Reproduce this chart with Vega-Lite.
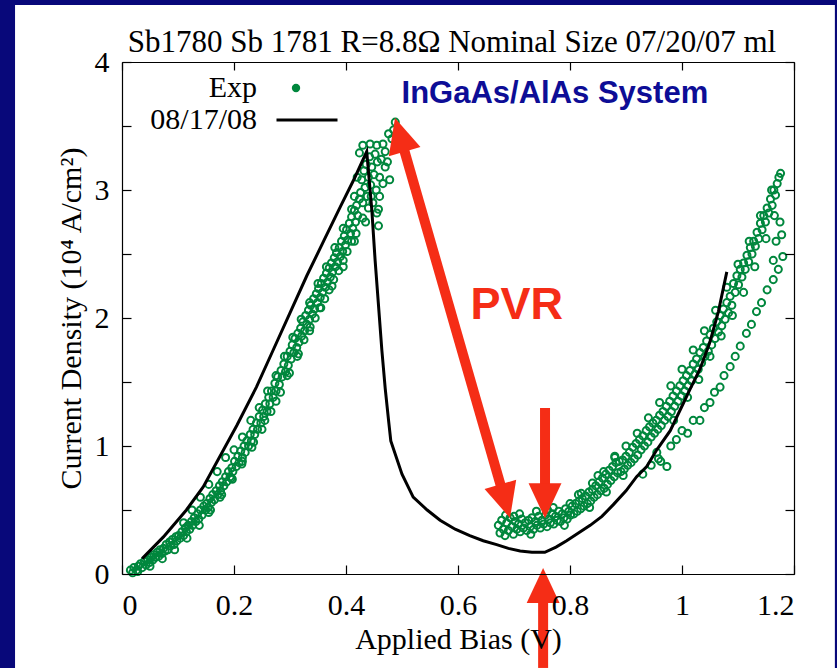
{
  "$schema": "https://vega.github.io/schema/vega-lite/v6.json",
  "width": 672,
  "height": 512,
  "autosize": "none",
  "padding": {"left": 122, "top": 62, "right": 43, "bottom": 94},
  "background": "#08087a",
  "title": {"text": "Sb1780 Sb 1781 R=8.8Ω Nominal Size 07/20/07 ml", "font": "Liberation Serif", "fontSize": 31, "fontWeight": "normal", "color": "black", "anchor": "middle", "offset": -54, "dx": -6},
  "config": {
    "view": {"stroke": null},
    "axis": {"labelFont": "Liberation Serif", "labelFontSize": 30, "labelColor": "black", "titleFont": "Liberation Serif", "titleFontSize": 30, "titleFontWeight": "normal", "titleColor": "black", "domainColor": "black", "tickColor": "black", "grid": false, "domainWidth": 1.2, "tickWidth": 1.2}
  },
  "datasets": {
    "exp": [
      {"series":"Exp","bias":0.015,"density":0.03},{"series":"Exp","bias":0.019,"density":0.01},{"series":"Exp","bias":0.021,"density":0.05},{"series":"Exp","bias":0.026,"density":0.03},{"series":"Exp","bias":0.029,"density":0.06},{"series":"Exp","bias":0.033,"density":0.08},{"series":"Exp","bias":0.036,"density":0.05},{"series":"Exp","bias":0.04,"density":0.1},{"series":"Exp","bias":0.043,"density":0.07},{"series":"Exp","bias":0.046,"density":0.11},{"series":"Exp","bias":0.049,"density":0.09},{"series":"Exp","bias":0.052,"density":0.13},{"series":"Exp","bias":0.055,"density":0.11},{"series":"Exp","bias":0.057,"density":0.15},{"series":"Exp","bias":0.06,"density":0.13},{"series":"Exp","bias":0.063,"density":0.17},{"series":"Exp","bias":0.066,"density":0.14},{"series":"Exp","bias":0.068,"density":0.19},{"series":"Exp","bias":0.071,"density":0.16},{"series":"Exp","bias":0.074,"density":0.2},{"series":"Exp","bias":0.077,"density":0.18},{"series":"Exp","bias":0.079,"density":0.23},{"series":"Exp","bias":0.082,"density":0.19},{"series":"Exp","bias":0.085,"density":0.25},{"series":"Exp","bias":0.087,"density":0.22},{"series":"Exp","bias":0.09,"density":0.27},{"series":"Exp","bias":0.093,"density":0.23},{"series":"Exp","bias":0.096,"density":0.29},{"series":"Exp","bias":0.098,"density":0.26},{"series":"Exp","bias":0.101,"density":0.3},{"series":"Exp","bias":0.104,"density":0.28},{"series":"Exp","bias":0.107,"density":0.33},{"series":"Exp","bias":0.11,"density":0.3},{"series":"Exp","bias":0.113,"density":0.36},{"series":"Exp","bias":0.115,"density":0.33},{"series":"Exp","bias":0.118,"density":0.38},{"series":"Exp","bias":0.121,"density":0.35},{"series":"Exp","bias":0.124,"density":0.41},{"series":"Exp","bias":0.126,"density":0.38},{"series":"Exp","bias":0.129,"density":0.44},{"series":"Exp","bias":0.132,"density":0.41},{"series":"Exp","bias":0.135,"density":0.47},{"series":"Exp","bias":0.137,"density":0.43},{"series":"Exp","bias":0.14,"density":0.5},{"series":"Exp","bias":0.143,"density":0.46},{"series":"Exp","bias":0.146,"density":0.53},{"series":"Exp","bias":0.149,"density":0.5},{"series":"Exp","bias":0.151,"density":0.55},{"series":"Exp","bias":0.154,"density":0.52},{"series":"Exp","bias":0.157,"density":0.59},{"series":"Exp","bias":0.16,"density":0.56},{"series":"Exp","bias":0.162,"density":0.62},{"series":"Exp","bias":0.165,"density":0.58},{"series":"Exp","bias":0.168,"density":0.65},{"series":"Exp","bias":0.171,"density":0.62},{"series":"Exp","bias":0.174,"density":0.69},{"series":"Exp","bias":0.176,"density":0.65},{"series":"Exp","bias":0.179,"density":0.72},{"series":"Exp","bias":0.182,"density":0.69},{"series":"Exp","bias":0.185,"density":0.76},{"series":"Exp","bias":0.187,"density":0.72},{"series":"Exp","bias":0.19,"density":0.8},{"series":"Exp","bias":0.193,"density":0.76},{"series":"Exp","bias":0.196,"density":0.83},{"series":"Exp","bias":0.198,"density":0.8},{"series":"Exp","bias":0.201,"density":0.88},{"series":"Exp","bias":0.204,"density":0.84},{"series":"Exp","bias":0.207,"density":0.92},{"series":"Exp","bias":0.209,"density":0.87},{"series":"Exp","bias":0.212,"density":0.96},{"series":"Exp","bias":0.215,"density":0.91},{"series":"Exp","bias":0.218,"density":1.0},{"series":"Exp","bias":0.22,"density":0.95},{"series":"Exp","bias":0.223,"density":1.04},{"series":"Exp","bias":0.226,"density":1.0},{"series":"Exp","bias":0.229,"density":1.09},{"series":"Exp","bias":0.231,"density":1.04},{"series":"Exp","bias":0.234,"density":1.13},{"series":"Exp","bias":0.237,"density":1.09},{"series":"Exp","bias":0.24,"density":1.18},{"series":"Exp","bias":0.242,"density":1.13},{"series":"Exp","bias":0.245,"density":1.23},{"series":"Exp","bias":0.248,"density":1.18},{"series":"Exp","bias":0.251,"density":1.28},{"series":"Exp","bias":0.253,"density":1.23},{"series":"Exp","bias":0.256,"density":1.33},{"series":"Exp","bias":0.259,"density":1.27},{"series":"Exp","bias":0.262,"density":1.38},{"series":"Exp","bias":0.264,"density":1.33},{"series":"Exp","bias":0.267,"density":1.43},{"series":"Exp","bias":0.27,"density":1.38},{"series":"Exp","bias":0.273,"density":1.49},{"series":"Exp","bias":0.275,"density":1.43},{"series":"Exp","bias":0.278,"density":1.54},{"series":"Exp","bias":0.281,"density":1.48},{"series":"Exp","bias":0.284,"density":1.59},{"series":"Exp","bias":0.286,"density":1.54},{"series":"Exp","bias":0.289,"density":1.64},{"series":"Exp","bias":0.292,"density":1.58},{"series":"Exp","bias":0.295,"density":1.7},{"series":"Exp","bias":0.297,"density":1.63},{"series":"Exp","bias":0.3,"density":1.74},
      {"series":"Exp","bias":0.028,"density":0.02},{"series":"Exp","bias":0.05,"density":0.06},{"series":"Exp","bias":0.072,"density":0.12},{"series":"Exp","bias":0.094,"density":0.19},{"series":"Exp","bias":0.116,"density":0.28},{"series":"Exp","bias":0.138,"density":0.38},{"series":"Exp","bias":0.158,"density":0.5},{"series":"Exp","bias":0.178,"density":0.62},{"series":"Exp","bias":0.197,"density":0.74},{"series":"Exp","bias":0.214,"density":0.86},{"series":"Exp","bias":0.232,"density":0.99},{"series":"Exp","bias":0.25,"density":1.13},{"series":"Exp","bias":0.266,"density":1.27},{"series":"Exp","bias":0.283,"density":1.42},{"series":"Exp","bias":0.299,"density":1.57},
      {"series":"Exp","bias":0.11,"density":0.4},{"series":"Exp","bias":0.125,"density":0.5},{"series":"Exp","bias":0.14,"density":0.6},{"series":"Exp","bias":0.155,"density":0.7},{"series":"Exp","bias":0.17,"density":0.8},{"series":"Exp","bias":0.185,"density":0.91},{"series":"Exp","bias":0.2,"density":0.97},{"series":"Exp","bias":0.215,"density":1.07},{"series":"Exp","bias":0.23,"density":1.2},{"series":"Exp","bias":0.245,"density":1.3},{"series":"Exp","bias":0.26,"density":1.43},{"series":"Exp","bias":0.275,"density":1.55},{"series":"Exp","bias":0.29,"density":1.7},{"series":"Exp","bias":0.305,"density":1.85},{"series":"Exp","bias":0.32,"density":1.99},{"series":"Exp","bias":0.335,"density":2.12},{"series":"Exp","bias":0.35,"density":2.27},{"series":"Exp","bias":0.365,"density":2.4},{"series":"Exp","bias":0.38,"density":2.55},{"series":"Exp","bias":0.395,"density":2.7},{"series":"Exp","bias":0.41,"density":2.85},
      {"series":"Exp","bias":0.155,"density":0.48},{"series":"Exp","bias":0.175,"density":0.6},{"series":"Exp","bias":0.195,"density":0.75},{"series":"Exp","bias":0.215,"density":0.88},{"series":"Exp","bias":0.235,"density":1.03},{"series":"Exp","bias":0.255,"density":1.2},{"series":"Exp","bias":0.275,"density":1.35},{"series":"Exp","bias":0.295,"density":1.55},{"series":"Exp","bias":0.315,"density":1.72},{"series":"Exp","bias":0.335,"density":1.9},{"series":"Exp","bias":0.355,"density":2.08},{"series":"Exp","bias":0.375,"density":2.25},{"series":"Exp","bias":0.395,"density":2.4},{"series":"Exp","bias":0.415,"density":2.6},{"series":"Exp","bias":0.435,"density":2.75},{"series":"Exp","bias":0.445,"density":2.95},
      {"series":"Exp","bias":0.302,"density":1.68},{"series":"Exp","bias":0.304,"density":1.79},{"series":"Exp","bias":0.307,"density":1.73},{"series":"Exp","bias":0.309,"density":1.84},{"series":"Exp","bias":0.312,"density":1.77},{"series":"Exp","bias":0.314,"density":1.88},{"series":"Exp","bias":0.316,"density":1.81},{"series":"Exp","bias":0.319,"density":1.92},{"series":"Exp","bias":0.321,"density":1.86},{"series":"Exp","bias":0.323,"density":1.97},{"series":"Exp","bias":0.326,"density":1.9},{"series":"Exp","bias":0.328,"density":2.02},{"series":"Exp","bias":0.33,"density":1.95},{"series":"Exp","bias":0.333,"density":2.06},{"series":"Exp","bias":0.335,"density":1.99},{"series":"Exp","bias":0.337,"density":2.1},{"series":"Exp","bias":0.34,"density":2.03},{"series":"Exp","bias":0.342,"density":2.15},{"series":"Exp","bias":0.344,"density":2.07},{"series":"Exp","bias":0.347,"density":2.19},{"series":"Exp","bias":0.349,"density":2.12},{"series":"Exp","bias":0.351,"density":2.23},{"series":"Exp","bias":0.354,"density":2.16},{"series":"Exp","bias":0.356,"density":2.27},{"series":"Exp","bias":0.358,"density":2.2},{"series":"Exp","bias":0.36,"density":2.31},{"series":"Exp","bias":0.363,"density":2.24},{"series":"Exp","bias":0.365,"density":2.35},{"series":"Exp","bias":0.367,"density":2.28},{"series":"Exp","bias":0.37,"density":2.39},{"series":"Exp","bias":0.372,"density":2.32},{"series":"Exp","bias":0.374,"density":2.43},{"series":"Exp","bias":0.376,"density":2.36},{"series":"Exp","bias":0.379,"density":2.47},{"series":"Exp","bias":0.381,"density":2.4},{"series":"Exp","bias":0.383,"density":2.51},{"series":"Exp","bias":0.385,"density":2.44},{"series":"Exp","bias":0.388,"density":2.55},{"series":"Exp","bias":0.39,"density":2.48},{"series":"Exp","bias":0.392,"density":2.6},{"series":"Exp","bias":0.394,"density":2.52},{"series":"Exp","bias":0.397,"density":2.64},{"series":"Exp","bias":0.399,"density":2.57},{"series":"Exp","bias":0.401,"density":2.69},{"series":"Exp","bias":0.403,"density":2.61},{"series":"Exp","bias":0.406,"density":2.74},{"series":"Exp","bias":0.408,"density":2.66},{"series":"Exp","bias":0.41,"density":2.79},{"series":"Exp","bias":0.412,"density":2.7},{"series":"Exp","bias":0.415,"density":2.84},{"series":"Exp","bias":0.417,"density":2.75},{"series":"Exp","bias":0.419,"density":2.88},{"series":"Exp","bias":0.421,"density":2.8},{"series":"Exp","bias":0.424,"density":2.93},
      {"series":"Exp","bias":0.313,"density":1.7},{"series":"Exp","bias":0.325,"density":1.83},{"series":"Exp","bias":0.336,"density":1.93},{"series":"Exp","bias":0.345,"density":2.0},{"series":"Exp","bias":0.353,"density":2.08},{"series":"Exp","bias":0.362,"density":2.15},{"series":"Exp","bias":0.37,"density":2.22},{"series":"Exp","bias":0.378,"density":2.3},{"series":"Exp","bias":0.387,"density":2.37},{"series":"Exp","bias":0.395,"density":2.45},{"series":"Exp","bias":0.402,"density":2.52},{"series":"Exp","bias":0.41,"density":2.6},{"series":"Exp","bias":0.418,"density":2.66},{"series":"Exp","bias":0.43,"density":2.78},{"series":"Exp","bias":0.44,"density":2.86},{"series":"Exp","bias":0.455,"density":2.82},{"series":"Exp","bias":0.46,"density":2.95},
      {"series":"Exp","bias":0.426,"density":2.98},{"series":"Exp","bias":0.428,"density":3.08},{"series":"Exp","bias":0.43,"density":2.9},{"series":"Exp","bias":0.432,"density":3.15},{"series":"Exp","bias":0.434,"density":3.02},{"series":"Exp","bias":0.436,"density":3.2},{"series":"Exp","bias":0.438,"density":2.95},{"series":"Exp","bias":0.44,"density":3.1},{"series":"Exp","bias":0.442,"density":3.26},{"series":"Exp","bias":0.444,"density":3.04},{"series":"Exp","bias":0.446,"density":3.18},{"series":"Exp","bias":0.448,"density":2.9},{"series":"Exp","bias":0.45,"density":3.12},{"series":"Exp","bias":0.452,"density":3.28},{"series":"Exp","bias":0.454,"density":3.0},{"series":"Exp","bias":0.456,"density":3.22},{"series":"Exp","bias":0.458,"density":2.85},{"series":"Exp","bias":0.46,"density":3.1},{"series":"Exp","bias":0.463,"density":3.24},{"series":"Exp","bias":0.466,"density":3.05},{"series":"Exp","bias":0.47,"density":3.18},{"series":"Exp","bias":0.474,"density":3.22},{"series":"Exp","bias":0.478,"density":3.08},{"series":"Exp","bias":0.43,"density":3.35},{"series":"Exp","bias":0.443,"density":3.36},{"series":"Exp","bias":0.455,"density":3.35},{"series":"Exp","bias":0.466,"density":3.36},{"series":"Exp","bias":0.47,"density":3.3},{"series":"Exp","bias":0.476,"density":3.44},{"series":"Exp","bias":0.482,"density":3.4},{"series":"Exp","bias":0.488,"density":3.53},{"series":"Exp","bias":0.485,"density":3.47},{"series":"Exp","bias":0.424,"density":3.29},{"series":"Exp","bias":0.42,"density":3.1},{"series":"Exp","bias":0.415,"density":2.95},{"series":"Exp","bias":0.458,"density":2.72},
      {"series":"Exp","bias":0.672,"density":0.38},{"series":"Exp","bias":0.675,"density":0.32},{"series":"Exp","bias":0.678,"density":0.42},{"series":"Exp","bias":0.681,"density":0.35},{"series":"Exp","bias":0.684,"density":0.3},{"series":"Exp","bias":0.687,"density":0.4},{"series":"Exp","bias":0.69,"density":0.34},{"series":"Exp","bias":0.693,"density":0.44},{"series":"Exp","bias":0.696,"density":0.37},{"series":"Exp","bias":0.699,"density":0.31},{"series":"Exp","bias":0.702,"density":0.41},{"series":"Exp","bias":0.705,"density":0.35},{"series":"Exp","bias":0.708,"density":0.39},{"series":"Exp","bias":0.711,"density":0.33},{"series":"Exp","bias":0.714,"density":0.43},{"series":"Exp","bias":0.717,"density":0.36},{"series":"Exp","bias":0.72,"density":0.4},{"series":"Exp","bias":0.723,"density":0.34},{"series":"Exp","bias":0.726,"density":0.42},{"series":"Exp","bias":0.729,"density":0.37},{"series":"Exp","bias":0.732,"density":0.44},{"series":"Exp","bias":0.735,"density":0.35},{"series":"Exp","bias":0.738,"density":0.41},{"series":"Exp","bias":0.741,"density":0.38},{"series":"Exp","bias":0.744,"density":0.45},{"series":"Exp","bias":0.747,"density":0.36},{"series":"Exp","bias":0.75,"density":0.42},{"series":"Exp","bias":0.753,"density":0.39},{"series":"Exp","bias":0.756,"density":0.46},{"series":"Exp","bias":0.759,"density":0.37},{"series":"Exp","bias":0.762,"density":0.43},{"series":"Exp","bias":0.765,"density":0.4},{"series":"Exp","bias":0.768,"density":0.47},{"series":"Exp","bias":0.771,"density":0.39},{"series":"Exp","bias":0.774,"density":0.45},{"series":"Exp","bias":0.777,"density":0.42},{"series":"Exp","bias":0.78,"density":0.49},{"series":"Exp","bias":0.783,"density":0.41},{"series":"Exp","bias":0.786,"density":0.47},{"series":"Exp","bias":0.789,"density":0.44},{"series":"Exp","bias":0.792,"density":0.51},{"series":"Exp","bias":0.795,"density":0.43},{"series":"Exp","bias":0.798,"density":0.49},
      {"series":"Exp","bias":0.685,"density":0.46},{"series":"Exp","bias":0.71,"density":0.47},{"series":"Exp","bias":0.74,"density":0.49},{"series":"Exp","bias":0.77,"density":0.52},{"series":"Exp","bias":0.7,"density":0.45},{"series":"Exp","bias":0.73,"density":0.31},{"series":"Exp","bias":0.76,"density":0.5},{"series":"Exp","bias":0.79,"density":0.38},{"series":"Exp","bias":0.815,"density":0.62},{"series":"Exp","bias":0.835,"density":0.52},{"series":"Exp","bias":0.85,"density":0.77},{"series":"Exp","bias":0.865,"density":0.64},{"series":"Exp","bias":0.88,"density":0.92},{"series":"Exp","bias":0.895,"density":0.77},
      {"series":"Exp","bias":0.801,"density":0.46},{"series":"Exp","bias":0.804,"density":0.53},{"series":"Exp","bias":0.807,"density":0.47},{"series":"Exp","bias":0.81,"density":0.55},{"series":"Exp","bias":0.813,"density":0.49},{"series":"Exp","bias":0.816,"density":0.57},{"series":"Exp","bias":0.819,"density":0.51},{"series":"Exp","bias":0.822,"density":0.59},{"series":"Exp","bias":0.825,"density":0.53},{"series":"Exp","bias":0.828,"density":0.61},{"series":"Exp","bias":0.831,"density":0.55},{"series":"Exp","bias":0.834,"density":0.64},{"series":"Exp","bias":0.837,"density":0.57},{"series":"Exp","bias":0.84,"density":0.66},{"series":"Exp","bias":0.843,"density":0.6},{"series":"Exp","bias":0.846,"density":0.69},{"series":"Exp","bias":0.849,"density":0.62},{"series":"Exp","bias":0.852,"density":0.72},{"series":"Exp","bias":0.855,"density":0.65},{"series":"Exp","bias":0.858,"density":0.75},{"series":"Exp","bias":0.861,"density":0.67},{"series":"Exp","bias":0.864,"density":0.78},{"series":"Exp","bias":0.867,"density":0.7},{"series":"Exp","bias":0.87,"density":0.81},{"series":"Exp","bias":0.873,"density":0.73},{"series":"Exp","bias":0.876,"density":0.84},{"series":"Exp","bias":0.879,"density":0.76},{"series":"Exp","bias":0.882,"density":0.87},{"series":"Exp","bias":0.885,"density":0.79},{"series":"Exp","bias":0.888,"density":0.88},{"series":"Exp","bias":0.891,"density":0.8},
      {"series":"Exp","bias":0.8,"density":0.55},{"series":"Exp","bias":0.82,"density":0.63},{"series":"Exp","bias":0.84,"density":0.71},{"series":"Exp","bias":0.86,"density":0.8},{"series":"Exp","bias":0.88,"density":0.91},{"series":"Exp","bias":0.9,"density":1.0},{"series":"Exp","bias":0.92,"density":1.1},{"series":"Exp","bias":0.94,"density":1.22},{"series":"Exp","bias":0.96,"density":1.34},{"series":"Exp","bias":0.98,"density":1.47},{"series":"Exp","bias":1.0,"density":1.6},{"series":"Exp","bias":1.02,"density":1.75},{"series":"Exp","bias":1.04,"density":1.9},{"series":"Exp","bias":1.06,"density":2.06},{"series":"Exp","bias":1.08,"density":2.24},{"series":"Exp","bias":1.1,"density":2.42},{"series":"Exp","bias":1.12,"density":2.6},{"series":"Exp","bias":1.14,"density":2.8},{"series":"Exp","bias":1.16,"density":3.0},
      {"series":"Exp","bias":0.894,"density":0.89},{"series":"Exp","bias":0.897,"density":0.82},{"series":"Exp","bias":0.9,"density":0.92},{"series":"Exp","bias":0.903,"density":0.85},{"series":"Exp","bias":0.906,"density":0.95},{"series":"Exp","bias":0.909,"density":0.87},{"series":"Exp","bias":0.912,"density":0.99},{"series":"Exp","bias":0.915,"density":0.9},{"series":"Exp","bias":0.918,"density":1.02},{"series":"Exp","bias":0.921,"density":0.93},{"series":"Exp","bias":0.924,"density":1.05},{"series":"Exp","bias":0.927,"density":0.97},{"series":"Exp","bias":0.93,"density":1.08},{"series":"Exp","bias":0.933,"density":1.0},{"series":"Exp","bias":0.936,"density":1.12},{"series":"Exp","bias":0.939,"density":1.03},{"series":"Exp","bias":0.942,"density":1.15},{"series":"Exp","bias":0.945,"density":1.07},{"series":"Exp","bias":0.948,"density":1.18},{"series":"Exp","bias":0.951,"density":1.1},
      {"series":"Exp","bias":0.954,"density":1.2},{"series":"Exp","bias":0.957,"density":1.13},{"series":"Exp","bias":0.96,"density":1.24},{"series":"Exp","bias":0.963,"density":1.16},{"series":"Exp","bias":0.966,"density":1.27},{"series":"Exp","bias":0.969,"density":1.2},{"series":"Exp","bias":0.972,"density":1.31},{"series":"Exp","bias":0.975,"density":1.23},{"series":"Exp","bias":0.978,"density":1.35},{"series":"Exp","bias":0.981,"density":1.27},{"series":"Exp","bias":0.984,"density":1.39},{"series":"Exp","bias":0.987,"density":1.31},{"series":"Exp","bias":0.99,"density":1.43},{"series":"Exp","bias":0.993,"density":1.35},{"series":"Exp","bias":0.996,"density":1.47},{"series":"Exp","bias":0.999,"density":1.39},{"series":"Exp","bias":1.002,"density":1.51},{"series":"Exp","bias":1.005,"density":1.43},{"series":"Exp","bias":1.008,"density":1.55},{"series":"Exp","bias":1.011,"density":1.47},{"series":"Exp","bias":1.014,"density":1.59},{"series":"Exp","bias":1.017,"density":1.51},{"series":"Exp","bias":1.02,"density":1.64},{"series":"Exp","bias":1.023,"density":1.56},{"series":"Exp","bias":1.026,"density":1.68},{"series":"Exp","bias":1.029,"density":1.6},{"series":"Exp","bias":1.032,"density":1.73},{"series":"Exp","bias":1.035,"density":1.65},{"series":"Exp","bias":1.038,"density":1.77},{"series":"Exp","bias":1.041,"density":1.7},{"series":"Exp","bias":1.044,"density":1.82},{"series":"Exp","bias":1.047,"density":1.74},{"series":"Exp","bias":1.05,"density":1.87},{"series":"Exp","bias":1.053,"density":1.79},{"series":"Exp","bias":1.056,"density":1.92},{"series":"Exp","bias":1.059,"density":1.84},{"series":"Exp","bias":1.062,"density":1.97},{"series":"Exp","bias":1.065,"density":1.89},{"series":"Exp","bias":1.068,"density":2.02},{"series":"Exp","bias":1.071,"density":1.94},{"series":"Exp","bias":1.074,"density":2.07},{"series":"Exp","bias":1.077,"density":1.99},{"series":"Exp","bias":1.08,"density":2.12},{"series":"Exp","bias":1.083,"density":2.04},{"series":"Exp","bias":1.086,"density":2.17},{"series":"Exp","bias":1.089,"density":2.1},{"series":"Exp","bias":1.092,"density":2.27},{"series":"Exp","bias":1.095,"density":2.2},{"series":"Exp","bias":1.098,"density":2.33},{"series":"Exp","bias":1.101,"density":2.26},{"series":"Exp","bias":1.104,"density":2.38},{"series":"Exp","bias":1.107,"density":2.32},{"series":"Exp","bias":1.11,"density":2.43},{"series":"Exp","bias":1.113,"density":2.38},{"series":"Exp","bias":1.116,"density":2.49},{"series":"Exp","bias":1.119,"density":2.44},{"series":"Exp","bias":1.122,"density":2.55},{"series":"Exp","bias":1.125,"density":2.5},{"series":"Exp","bias":1.128,"density":2.6},{"series":"Exp","bias":1.131,"density":2.56},{"series":"Exp","bias":1.134,"density":2.67},{"series":"Exp","bias":1.137,"density":2.62},{"series":"Exp","bias":1.14,"density":2.74},{"series":"Exp","bias":1.143,"density":2.69},{"series":"Exp","bias":1.146,"density":2.8},{"series":"Exp","bias":1.149,"density":2.75},{"series":"Exp","bias":1.152,"density":2.86},{"series":"Exp","bias":1.155,"density":2.82},{"series":"Exp","bias":1.158,"density":2.93},{"series":"Exp","bias":1.161,"density":2.88},{"series":"Exp","bias":1.164,"density":3.0},{"series":"Exp","bias":1.167,"density":2.96},{"series":"Exp","bias":1.17,"density":3.05},{"series":"Exp","bias":1.173,"density":3.1},{"series":"Exp","bias":1.176,"density":3.13},
      {"series":"Exp","bias":0.985,"density":1.2},{"series":"Exp","bias":1.01,"density":1.38},{"series":"Exp","bias":1.03,"density":1.52},{"series":"Exp","bias":1.05,"density":1.7},{"series":"Exp","bias":1.07,"density":1.86},{"series":"Exp","bias":1.09,"density":2.02},{"series":"Exp","bias":1.11,"density":2.2},{"series":"Exp","bias":1.13,"density":2.4},{"series":"Exp","bias":1.15,"density":2.62},{"series":"Exp","bias":1.165,"density":2.8},
      {"series":"Exp","bias":0.955,"density":0.95},{"series":"Exp","bias":0.962,"density":0.88},{"series":"Exp","bias":0.973,"density":0.84},{"series":"Exp","bias":0.98,"density":1.0},{"series":"Exp","bias":0.99,"density":1.05},{"series":"Exp","bias":1.0,"density":1.12},{"series":"Exp","bias":1.01,"density":1.1},{"series":"Exp","bias":1.02,"density":1.2},{"series":"Exp","bias":1.032,"density":1.2},{"series":"Exp","bias":1.04,"density":1.3},{"series":"Exp","bias":1.05,"density":1.34},{"series":"Exp","bias":1.058,"density":1.42},{"series":"Exp","bias":1.068,"density":1.46},{"series":"Exp","bias":1.075,"density":1.55},{"series":"Exp","bias":1.086,"density":1.62},{"series":"Exp","bias":1.095,"density":1.7},{"series":"Exp","bias":1.104,"density":1.78},{"series":"Exp","bias":1.115,"density":1.88},{"series":"Exp","bias":1.124,"density":1.95},{"series":"Exp","bias":1.133,"density":2.05},{"series":"Exp","bias":1.142,"density":2.12},{"series":"Exp","bias":1.152,"density":2.22},{"series":"Exp","bias":1.163,"density":2.3},{"series":"Exp","bias":1.163,"density":2.45},{"series":"Exp","bias":1.172,"density":2.38},{"series":"Exp","bias":1.18,"density":2.48},{"series":"Exp","bias":1.178,"density":2.65},{"series":"Exp","bias":1.175,"density":2.75},{"series":"Exp","bias":1.168,"density":2.6},{"series":"Exp","bias":0.93,"density":0.78},{"series":"Exp","bias":0.945,"density":0.85},{"series":"Exp","bias":0.958,"density":0.9}
    ],
    "model": [
      {"series":"08/17/08","bias":0.036,"density":0.12},{"series":"08/17/08","bias":0.074,"density":0.29},{"series":"08/17/08","bias":0.115,"density":0.5},{"series":"08/17/08","bias":0.145,"density":0.68},{"series":"08/17/08","bias":0.175,"density":0.92},{"series":"08/17/08","bias":0.205,"density":1.16},{"series":"08/17/08","bias":0.24,"density":1.46},{"series":"08/17/08","bias":0.27,"density":1.75},{"series":"08/17/08","bias":0.3,"density":2.04},{"series":"08/17/08","bias":0.33,"density":2.33},{"series":"08/17/08","bias":0.36,"density":2.6},{"series":"08/17/08","bias":0.39,"density":2.87},{"series":"08/17/08","bias":0.415,"density":3.09},{"series":"08/17/08","bias":0.437,"density":3.3},{"series":"08/17/08","bias":0.446,"density":2.85},{"series":"08/17/08","bias":0.452,"density":2.45},{"series":"08/17/08","bias":0.458,"density":2.1},{"series":"08/17/08","bias":0.464,"density":1.75},{"series":"08/17/08","bias":0.47,"density":1.45},{"series":"08/17/08","bias":0.476,"density":1.2},{"series":"08/17/08","bias":0.48,"density":1.04},{"series":"08/17/08","bias":0.5,"density":0.78},{"series":"08/17/08","bias":0.52,"density":0.6},{"series":"08/17/08","bias":0.545,"density":0.5},{"series":"08/17/08","bias":0.568,"density":0.42},{"series":"08/17/08","bias":0.595,"density":0.35},{"series":"08/17/08","bias":0.621,"density":0.3},{"series":"08/17/08","bias":0.645,"density":0.26},{"series":"08/17/08","bias":0.669,"density":0.23},{"series":"08/17/08","bias":0.69,"density":0.2},{"series":"08/17/08","bias":0.711,"density":0.18},{"series":"08/17/08","bias":0.732,"density":0.17},{"series":"08/17/08","bias":0.755,"density":0.17},{"series":"08/17/08","bias":0.775,"density":0.21},{"series":"08/17/08","bias":0.794,"density":0.26},{"series":"08/17/08","bias":0.815,"density":0.32},{"series":"08/17/08","bias":0.836,"density":0.38},{"series":"08/17/08","bias":0.857,"density":0.45},{"series":"08/17/08","bias":0.877,"density":0.54},{"series":"08/17/08","bias":0.9,"density":0.65},{"series":"08/17/08","bias":0.919,"density":0.76},{"series":"08/17/08","bias":0.937,"density":0.84},{"series":"08/17/08","bias":0.955,"density":0.97},{"series":"08/17/08","bias":0.979,"density":1.12},{"series":"08/17/08","bias":1.002,"density":1.33},{"series":"08/17/08","bias":1.014,"density":1.44},{"series":"08/17/08","bias":1.032,"density":1.6},{"series":"08/17/08","bias":1.049,"density":1.8},{"series":"08/17/08","bias":1.065,"density":2.05},{"series":"08/17/08","bias":1.08,"density":2.36}
    ]
  },
  "layer": [
    {
      "data": {"values": [{"panel": "slide"}]},
      "mark": {"type": "rect", "color": "white"},
      "encoding": {
        "x": {"datum": -0.191, "type": "quantitative", "scale": {"domain": [0, 1.2], "nice": false, "zero": false}, "axis": null},
        "x2": {"datum": 1.273},
        "y": {"datum": -0.734, "type": "quantitative", "scale": {"domain": [0, 4], "nice": false, "zero": false}, "axis": null},
        "y2": {"datum": 4.445}
      }
    },
    {
      "data": {"name": "exp"},
      "mark": {"type": "point", "filled": false, "strokeWidth": 2, "size": 50, "opacity": 1},
      "encoding": {
        "x": {"field": "bias", "type": "quantitative", "scale": {"domain": [0, 1.2], "nice": false, "zero": false},
          "axis": {"orient": "bottom", "zindex": 1, "values": [0, 0.2, 0.4, 0.6, 0.8, 1, 1.2], "format": "~g", "tickSize": -9, "labelPadding": 25, "title": "Applied Bias (V)", "titlePadding": 4, "domain": true}},
        "y": {"field": "density", "type": "quantitative", "scale": {"domain": [0, 4], "nice": false, "zero": false},
          "axis": {"orient": "left", "zindex": 1, "values": [0, 0.5, 1, 1.5, 2, 2.5, 3, 3.5, 4], "format": "~g", "labelExpr": "datum.value % 1 === 0 ? datum.label : ''", "tickSize": -9, "labelPadding": 22, "title": "Current Density (10⁴ A/cm²)", "titlePadding": 8, "domain": true}},
        "color": {"field": "series", "type": "nominal", "scale": {"domain": ["Exp"], "range": ["#00873d"]}, "legend": null}
      }
    },
    {
      "data": {"name": "exp"},
      "transform": [{"filter": "datum.bias > 5"}],
      "mark": {"type": "point", "filled": true, "size": 70, "opacity": 1},
      "encoding": {
        "x": {"field": "bias", "type": "quantitative", "scale": {"domain": [0, 1.2], "nice": false, "zero": false}, "axis": null},
        "y": {"field": "density", "type": "quantitative", "scale": {"domain": [0, 4], "nice": false, "zero": false}, "axis": null},
        "color": {"field": "series", "type": "nominal", "scale": {"domain": ["Exp"], "range": ["#00873d"]},
          "legend": {"orient": "none", "legendX": 159, "legendY": 11, "title": null, "labelFont": "Liberation Serif", "labelFontSize": 30, "labelColor": "black", "labelAlign": "right", "labelOffset": -54, "symbolType": "circle", "symbolSize": 70, "symbolOpacity": 1, "rowPadding": 0, "padding": 0}}
      }
    },
    {
      "data": {"name": "model"},
      "mark": {"type": "line", "strokeWidth": 3},
      "encoding": {
        "x": {"field": "bias", "type": "quantitative", "scale": {"domain": [0, 1.2], "nice": false, "zero": false},
          "axis": {"orient": "top", "zindex": 1, "values": [0, 0.2, 0.4, 0.6, 0.8, 1, 1.2], "labels": false, "tickSize": -8, "title": null, "domain": true}},
        "y": {"field": "density", "type": "quantitative", "scale": {"domain": [0, 4], "nice": false, "zero": false},
          "axis": {"orient": "right", "zindex": 1, "values": [0, 0.5, 1, 1.5, 2, 2.5, 3, 3.5, 4], "labels": false, "tickSize": -9, "title": null, "domain": true}},
        "color": {"field": "series", "type": "nominal", "scale": {"domain": ["08/17/08"], "range": ["#000000"]},
          "legend": {"orient": "none", "legendX": 153, "legendY": 26, "title": null, "labelFont": "Liberation Serif", "labelFontSize": 30, "labelColor": "black", "labelAlign": "right", "labelOffset": -82, "symbolType": "stroke", "symbolSize": 3721, "symbolStrokeWidth": 3, "symbolStrokeColor": "#000000", "rowPadding": 0, "padding": 0}}
      }
    },
    {
      "data": {"values": [
        {"bias": 0.4961, "density": 3.431, "bias2": 0.6843, "density2": 0.5688},
        {"bias": 0.7554, "density": 1.297, "bias2": 0.7554, "density2": 0.572},
        {"bias": 0.752, "density": -0.09, "bias2": 0.752, "density2": -0.734}
      ]},
      "mark": {"type": "rule", "color": "#f52d16", "strokeWidth": 10, "strokeCap": "butt"},
      "encoding": {
        "x": {"field": "bias", "type": "quantitative", "scale": {"domain": [0, 1.2], "nice": false, "zero": false}, "axis": null},
        "x2": {"field": "bias2"},
        "y": {"field": "density", "type": "quantitative", "scale": {"domain": [0, 4], "nice": false, "zero": false}, "axis": null},
        "y2": {"field": "density2"}
      }
    },
    {
      "data": {"values": [
        {"bias": 0.4961, "density": 3.431, "heading": -16},
        {"bias": 0.6843, "density": 0.5688, "heading": 164},
        {"bias": 0.7554, "density": 0.572, "heading": 180},
        {"bias": 0.752, "density": -0.09, "heading": 0}
      ]},
      "mark": {"type": "point", "filled": true, "color": "#f52d16", "opacity": 1, "shape": "M0,-1L-0.94,1L0.94,1Z", "size": 1225},
      "encoding": {
        "x": {"field": "bias", "type": "quantitative", "scale": {"domain": [0, 1.2], "nice": false, "zero": false}, "axis": null},
        "y": {"field": "density", "type": "quantitative", "scale": {"domain": [0, 4], "nice": false, "zero": false}, "axis": null},
        "angle": {"field": "heading", "type": "quantitative", "scale": null}
      }
    },
    {
      "data": {"values": [{"bias": 0.705, "density": 2.1, "label": "PVR"}]},
      "mark": {"type": "text", "font": "Liberation Sans", "fontWeight": "bold", "fontSize": 45, "color": "#f52d16", "align": "center", "baseline": "middle"},
      "encoding": {
        "x": {"field": "bias", "type": "quantitative", "scale": {"domain": [0, 1.2], "nice": false, "zero": false}, "axis": null},
        "y": {"field": "density", "type": "quantitative", "scale": {"domain": [0, 4], "nice": false, "zero": false}, "axis": null},
        "text": {"field": "label"}
      }
    },
    {
      "data": {"values": [{"bias": 0.773, "density": 3.75, "label": "InGaAs/AlAs System"}]},
      "mark": {"type": "text", "font": "Liberation Sans", "fontWeight": "bold", "fontSize": 31, "color": "#0d0d96", "align": "center", "baseline": "middle"},
      "encoding": {
        "x": {"field": "bias", "type": "quantitative", "scale": {"domain": [0, 1.2], "nice": false, "zero": false}, "axis": null},
        "y": {"field": "density", "type": "quantitative", "scale": {"domain": [0, 4], "nice": false, "zero": false}, "axis": null},
        "text": {"field": "label"}
      }
    }
  ],
  "resolve": {"axis": {"x": "independent", "y": "independent"}, "scale": {"color": "independent"}}
}
